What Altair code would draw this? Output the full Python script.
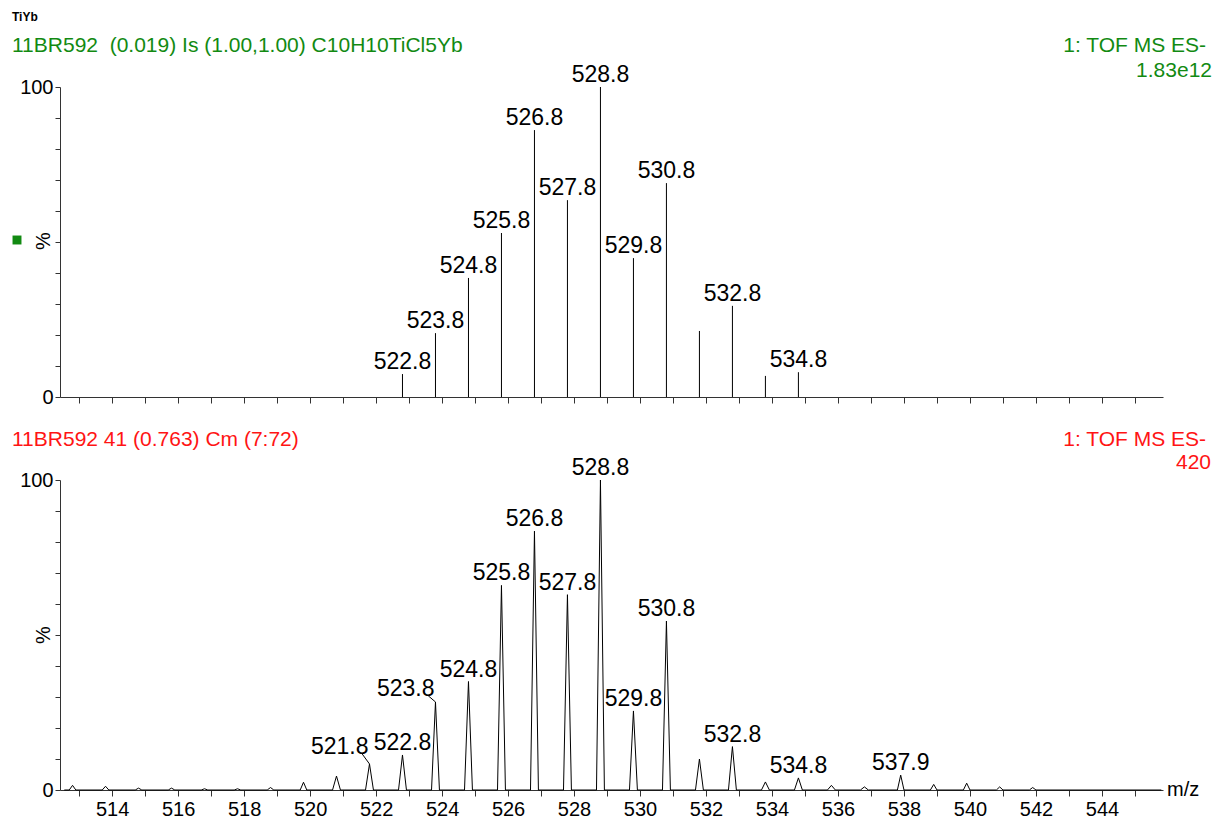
import altair as alt
import pandas as pd

FONT = "Liberation Sans"
GREEN = "#128a12"
RED = "#ff1414"

# ---- top panel: theoretical isotope pattern (sticks) ----
top_mz = [522.8, 523.8, 524.8, 525.8, 526.8, 527.8, 528.8, 529.8, 530.8, 531.8, 532.8, 533.8, 534.8]
top_pct = [7.4, 20.6, 38.4, 52.9, 86.1, 63.5, 100.0, 44.8, 69.0, 21.3, 29.4, 6.8, 8.0]
top_labels = ["522.8", "523.8", "524.8", "525.8", "526.8", "527.8", "528.8", "529.8", "530.8", "", "532.8", "", "534.8"]

# ---- bottom panel: measured profile (peak centres and heights) ----
bot_mz = [512.8, 513.8, 514.8, 515.8, 516.8, 517.8, 518.8, 519.8, 520.8, 521.8, 522.8, 523.8,
          524.8, 525.8, 526.8, 527.8, 528.8, 529.8, 530.8, 531.8, 532.8, 533.8, 534.8, 535.8,
          536.8, 537.9, 538.9, 539.9, 540.9, 541.9]
bot_pct = [1.5, 1.2, 0.6, 0.6, 0.4, 0.4, 0.8, 2.5, 4.5, 8.4, 11.3, 28.4, 35.0, 66.0, 83.5, 63.0,
           100.0, 25.5, 54.5, 10.0, 14.0, 2.6, 3.9, 1.5, 1.0, 4.8, 1.8, 2.2, 1.0, 0.8]
bot_halfwidth = [0.1] * 8 + [0.12] * 17 + [0.1] * 5
profile_start = 512.55
profile_end = 545.8

bot_label_mz = [522.8, 524.8, 525.8, 526.8, 527.8, 528.8, 529.8, 530.8, 532.8, 534.8, 537.9]
bot_label_pct = [11.3, 35.0, 66.0, 83.5, 63.0, 100.0, 25.5, 54.5, 14.0, 3.9, 4.8]
bot_label_text = ["522.8", "524.8", "525.8", "526.8", "527.8", "528.8", "529.8", "530.8", "532.8", "534.8", "537.9"]

lead_mz = [521.8, 523.8]
lead_pct = [8.4, 28.4]
lead_text = ["521.8", "523.8"]
lead_from_mz = [521.58, 523.58]
lead_from_pct = [11.6, 30.4]

x_ticks = list(range(513, 546))
y_ticks = list(range(0, 101, 10))

# ---- tables ----
top_df = pd.DataFrame({"mz": top_mz, "pct": top_pct, "label": top_labels, "base": [0] * len(top_mz)})

rows = [{"mz": profile_start, "pct": 0}]
for m, p, w in zip(bot_mz, bot_pct, bot_halfwidth):
    rows += [{"mz": m - w, "pct": 0}, {"mz": m, "pct": p}, {"mz": m + w, "pct": 0}]
rows.append({"mz": profile_end, "pct": 0})
prof_df = pd.DataFrame(rows)
prof_df["i"] = range(len(prof_df))

lab_df = pd.DataFrame({"mz": bot_label_mz, "pct": bot_label_pct, "label": bot_label_text})
lead_df = pd.DataFrame({"mz": lead_mz, "pct": lead_pct, "label": lead_text,
                        "mz0": lead_from_mz, "pct0": lead_from_pct})
one = pd.DataFrame({"a": [0]})

W, H = 1103, 310
x_scale = alt.Scale(domain=[512.42, 545.85], nice=False, zero=False)
y_scale = alt.Scale(domain=[0, 100], nice=False)

y_axis = alt.Axis(values=y_ticks, tickCount=50, tickSize=5, labelFontSize=20, labelPadding=2, title=None,
                  labelExpr="datum.value == 0 || datum.value == 100 ? datum.label : ''",
                  labelOverlap=False, grid=False)
top_x_axis = alt.Axis(values=x_ticks, tickCount=100, labels=False, tickSize=6, title=None, grid=False)
bot_x_axis = alt.Axis(values=x_ticks, tickCount=100, tickSize=6, title=None, grid=False, format="d",
                      labelFontSize=20, labelPadding=3, labelOverlap=False, labelFlush=False,
                      labelExpr="datum.value % 2 == 0 ? datum.label : ''")


def note(text, x, y, color="black", size=20, align="left", weight="normal", angle=0):
    return alt.Chart(one).mark_text(text=text, align=align, baseline="middle", color=color,
                                    fontSize=size, font=FONT, fontWeight=weight, angle=angle).encode(
        x=alt.value(x), y=alt.value(y))


sticks = alt.Chart(top_df).mark_rule(color="black", strokeWidth=1).encode(
    x=alt.X("mz:Q", scale=x_scale, axis=top_x_axis),
    y=alt.Y("pct:Q", scale=y_scale, axis=y_axis),
    y2="base:Q",
)
top_text = alt.Chart(top_df).transform_filter("datum.label != ''").mark_text(
    baseline="alphabetic", dy=-5, fontSize=23, font=FONT, color="black").encode(
    x=alt.X("mz:Q", scale=x_scale), y=alt.Y("pct:Q", scale=y_scale), text="label:N")

square = alt.Chart(one).mark_square(size=80, color=GREEN, opacity=1).encode(
    x=alt.value(-43), y=alt.value(153))

top = alt.layer(
    sticks, top_text, square,
    note("TiYb", -48, -70, size=12, weight="bold"),
    note("11BR592\u00a0 (0.019) Is (1.00,1.00) C10H10TiCl5Yb", -48, -41, color=GREEN, size=21),
    note("1: TOF MS ES-", 1146, -41, color=GREEN, size=21, align="right"),
    note("1.83e12", 1152, -16, color=GREEN, size=21, align="right"),
    note("%", -16, 154, size=20, angle=270, align="center"),
).properties(width=W, height=H)

line = alt.Chart(prof_df).mark_line(color="black", strokeWidth=1).encode(
    x=alt.X("mz:Q", scale=x_scale, axis=bot_x_axis),
    y=alt.Y("pct:Q", scale=y_scale, axis=y_axis),
    order="i:Q",
)
bot_text = alt.Chart(lab_df).mark_text(baseline="alphabetic", dy=-5, fontSize=23, font=FONT,
                                       color="black").encode(
    x=alt.X("mz:Q", scale=x_scale), y=alt.Y("pct:Q", scale=y_scale), text="label:N")
lead_lines = alt.Chart(lead_df).mark_rule(color="black", strokeWidth=1).encode(
    x=alt.X("mz0:Q", scale=x_scale), x2="mz:Q",
    y=alt.Y("pct0:Q", scale=y_scale), y2="pct:Q")
lead_text_m = alt.Chart(lead_df).mark_text(align="right", baseline="alphabetic", fontSize=23, font=FONT,
                                           color="black", dx=-1).encode(
    x=alt.X("mz:Q", scale=x_scale), y=alt.Y("pct0:Q", scale=y_scale), text="label:N")

bottom = alt.layer(
    line, bot_text, lead_lines, lead_text_m,
    note("11BR592 41 (0.763) Cm (7:72)", -48, -40, color=RED, size=21),
    note("1: TOF MS ES-", 1146, -40, color=RED, size=21, align="right"),
    note("420", 1151, -17, color=RED, size=21, align="right"),
    note("%", -16, 155, size=20, angle=270, align="center"),
    note("m/z", 1107, 310, size=20),
).properties(width=W, height=H)

chart = alt.vconcat(top, bottom, spacing=83, bounds="flush").properties(
    padding={"left": 12, "top": 11, "right": 2, "bottom": 2}
).configure_view(stroke=None).configure_axis(
    domainColor="#333333", tickColor="#333333", labelColor="black", labelFont=FONT,
    domainWidth=1, tickWidth=1
).configure_text(font=FONT)

chart.save("out.html", embed_options={"renderer": "svg", "actions": False})
